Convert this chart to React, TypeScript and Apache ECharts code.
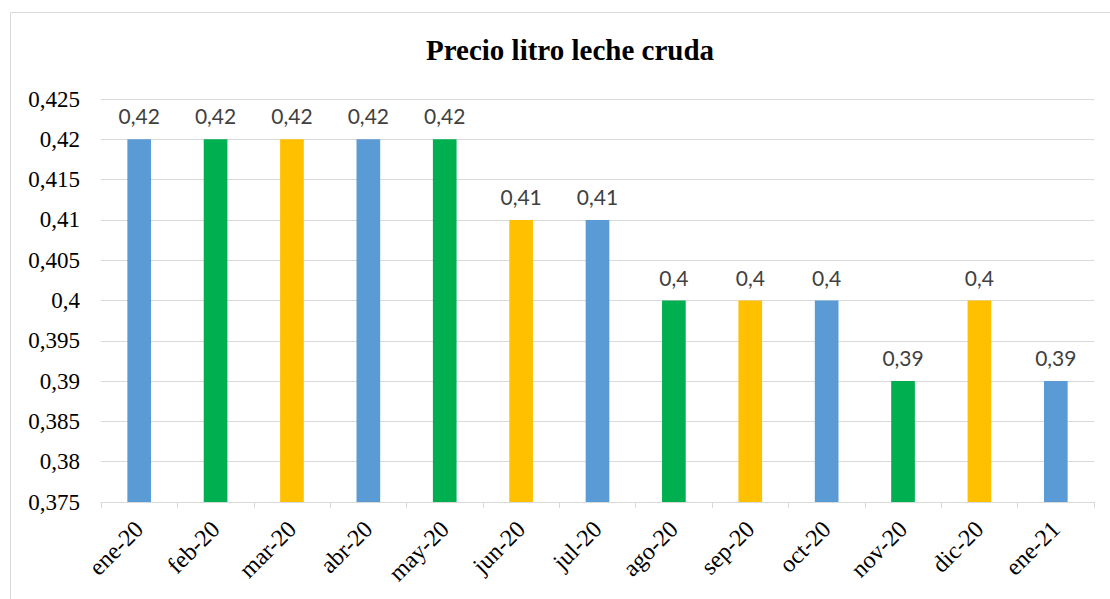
import React, { useEffect, useRef } from "react";
import * as echarts from "echarts";

const categories = ["ene-20", "feb-20", "mar-20", "abr-20", "may-20", "jun-20", "jul-20", "ago-20", "sep-20", "oct-20", "nov-20", "dic-20", "ene-21"];
const values = [0.42, 0.42, 0.42, 0.42, 0.42, 0.41, 0.41, 0.4, 0.4, 0.4, 0.39, 0.4, 0.39];
const palette = ["#5B9BD5", "#00B050", "#FFC000"];
const titleText = "Precio litro leche cruda";

export default function App() {
  const ref = useRef<HTMLDivElement>(null);
  useEffect(() => {
    document.body.style.margin = "0";
    const chart = echarts.init(ref.current!, undefined, { renderer: "svg" });
    const serif = "Liberation Serif";
    chart.setOption({
      animation: false,
      backgroundColor: "#ffffff",
      title: {
        text: titleText,
        left: 565,
        textAlign: "center",
        top: 30,
        textStyle: { fontFamily: serif, fontWeight: "bold", fontSize: 29, color: "#000" },
      },
      graphic: [
        {
          type: "rect",
          shape: { x: 10.5, y: 12.5, width: 1110, height: 600 },
          style: { fill: "none", stroke: "#d9d9d9", lineWidth: 1 },
          silent: true,
        },
      ],
      grid: { left: 101, right: 16, top: 99, bottom: 97, containLabel: false },
      xAxis: {
        type: "category",
        data: categories,
        axisLine: { lineStyle: { color: "#d9d9d9", width: 1 } },
        axisTick: { show: true, length: 6, lineStyle: { color: "#d9d9d9" }, alignWithLabel: false },
        axisLabel: {
          rotate: 45,
          fontFamily: serif,
          fontSize: 24,
          color: "#000",
          margin: 23,
          interval: 0,
        },
      },
      yAxis: {
        type: "value",
        min: 0.375,
        max: 0.425,
        interval: 0.005,
        axisLine: { show: false },
        axisTick: { show: false },
        splitLine: { lineStyle: { color: "#d9d9d9", width: 1 } },
        axisLabel: {
          fontFamily: serif,
          fontSize: 23,
          color: "#000",
          margin: 21,
          formatter: (v: number) => String(Math.round(v * 1000) / 1000).replace(".", ","),
        },
      },
      series: [
        {
          type: "bar",
          data: values.map((v, i) => ({ value: v, itemStyle: { color: palette[i % 3] } })),
          barWidth: "31%",
          label: {
            show: true,
            position: "top",
            distance: 13,
            fontFamily: "Lato",
            fontSize: 21,
            color: "#404040",
            formatter: (p: any) => String(p.value).replace(".", ","),
          },
        },
      ],
    });
    return () => chart.dispose();
  }, []);
  return <div ref={ref} style={{ width: 1110, height: 599 }} />;
}
